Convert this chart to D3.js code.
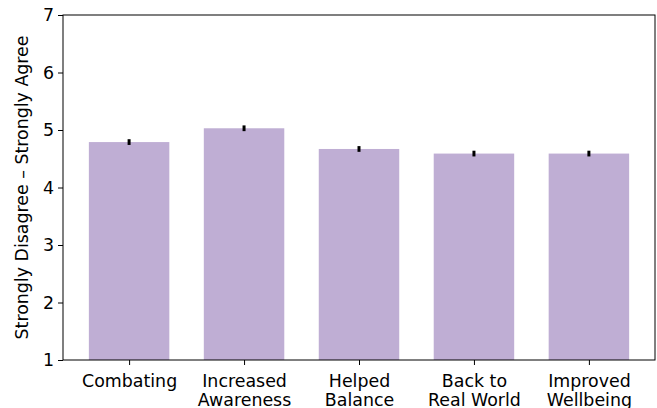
<!DOCTYPE html>
<html>
<head>
<meta charset="utf-8">
<script src="https://cdn.jsdelivr.net/npm/d3@7"></script>
<style>
  body { margin: 0; background: #fff; }
  svg { display: block; font-family: "DejaVu Sans", sans-serif; }
</style>
</head>
<body>
<svg id="chart" width="657" height="408"></svg>
<script>
// Data
const categories = ["Combating", "Increased\nAwareness", "Helped\nBalance", "Back to\nReal World", "Improved\nWellbeing"];
const means = [4.79, 5.03, 4.67, 4.59, 4.59];
const errors = [0.05, 0.05, 0.05, 0.05, 0.05];
const yTicks = [1, 2, 3, 4, 5, 6, 7];

const margin = { left: 63, right: 2, top: 15, bottom: 48 };
const width = 657, height = 408;
const fontSize = 17.4;

const svg = d3.select("#chart");

const x = d3.scaleLinear()
  .domain([-0.575, categories.length - 1 + 0.575])
  .range([margin.left, width - margin.right]);

const y = d3.scaleLinear()
  .domain([1, 7])
  .range([height - margin.bottom, margin.top]);

const barW = x(0.7) - x(0);

// Bars
svg.append("g").selectAll("rect")
  .data(means)
  .join("rect")
  .attr("x", (d, i) => x(i) - barW / 2)
  .attr("y", d => y(d))
  .attr("width", barW)
  .attr("height", d => y(1) - y(d))
  .attr("fill", "#bfaed4");

// Error bars
svg.append("g").selectAll("line")
  .data(means)
  .join("line")
  .attr("x1", (d, i) => x(i))
  .attr("x2", (d, i) => x(i))
  .attr("y1", (d, i) => y(d - errors[i]))
  .attr("y2", (d, i) => y(d + errors[i]))
  .attr("stroke", "#000")
  .attr("stroke-width", 3);

// Frame
svg.append("rect")
  .attr("x", x.range()[0])
  .attr("y", margin.top)
  .attr("width", x.range()[1] - x.range()[0])
  .attr("height", y(1) - y(7))
  .attr("fill", "none")
  .attr("stroke", "#000")
  .attr("stroke-width", 1);

// Y axis
const yAxis = svg.append("g")
  .attr("transform", `translate(${margin.left},0)`)
  .call(d3.axisLeft(y).tickValues(yTicks).tickSize(5).tickPadding(4).tickFormat(d3.format("d")));
yAxis.select(".domain").remove();
yAxis.selectAll("text").attr("font-size", fontSize).attr("fill", "#000").attr("font-family", "DejaVu Sans");

// X axis
const xAxis = svg.append("g")
  .attr("transform", `translate(0,${height - margin.bottom})`)
  .call(d3.axisBottom(x).tickValues(d3.range(categories.length)).tickSize(5).tickFormat(""));
xAxis.select(".domain").remove();

xAxis.selectAll(".tick").each(function(d) {
  const lines = categories[d].split("\n");
  const t = d3.select(this).append("text")
    .attr("fill", "#000")
    .attr("font-size", fontSize)
    .attr("font-family", "DejaVu Sans")
    .attr("text-anchor", "middle")
    .attr("y", 27);
  lines.forEach((l, k) => {
    t.append("tspan").attr("x", 0).attr("dy", k === 0 ? 0 : 18.5).text(l);
  });
});

// Y label
svg.append("text")
  .attr("transform", `translate(28,${(y(1) + y(7)) / 2}) rotate(-90)`)
  .attr("text-anchor", "middle")
  .attr("font-size", fontSize)
  .attr("fill", "#000")
  .text("Strongly Disagree – Strongly Agree");
</script>
</body>
</html>
